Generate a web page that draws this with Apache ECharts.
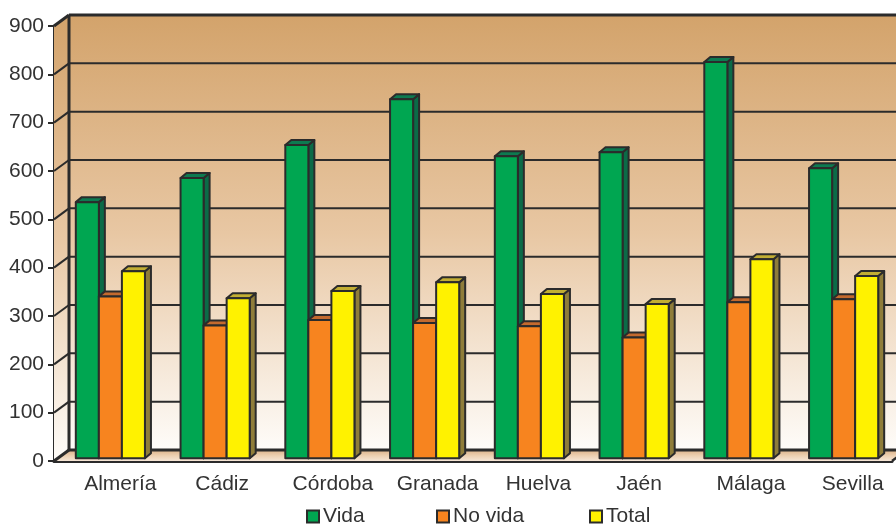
<!DOCTYPE html>
<html><head><meta charset="utf-8">
<style>html,body{margin:0;padding:0;background:#fff}#c{width:896px;height:525px}</style>
<script src="https://cdn.jsdelivr.net/npm/echarts@6/dist/echarts.min.js"></script>
</head><body><div id="c"></div>
<script>
const categories = ['Almería','Cádiz','Córdoba','Granada','Huelva','Jaén','Málaga','Sevilla'];
const vida   = [530,580,648,743,625,633,820,600];
const noVida = [335,275,286,280,273,250,323,329];
const total  = [387,331,346,364,340,319,412,377];
const yTicks = [0,100,200,300,400,500,600,700,800,900];

const INK='#2b2b2b', TXT='#333333', FONT='"Liberation Sans",Arial,sans-serif';
const labelPad=[28,22,34,34,26,18,32,26];
const DX=15, DY=-11;         // wall depth
const BDX=6, BDY=-5, BLIFT=-2.7, BSHIFT=4; // bar depth
const chart=echarts.init(document.getElementById('c'),null,{renderer:'canvas'});

function wall(params,api){
  const x0=api.coord([0,0])[0]-api.size([1,0])[0]/2;
  const x1=x0+api.size([1,0])[0]*categories.length;
  const yb=api.coord([0,0])[1], yt=api.coord([0,900])[1];
  const grad=()=>new echarts.graphic.LinearGradient(0,0,0,1,[{offset:0,color:'#d3a36b'},{offset:.5,color:'#e8c7a3'},{offset:1,color:'#fefcf9'}]);
  const ch=[];
  ch.push({type:'polygon',shape:{points:[[x0+DX,yt+DY],[x1+DX,yt+DY],[x1+DX,yb+DY],[x0+DX,yb+DY]]},style:{fill:grad()}});
  ch.push({type:'polygon',shape:{points:[[x0,yt],[x0+DX,yt+DY],[x0+DX,yb+DY],[x0,yb]]},style:{fill:grad()}});
  ch.push({type:'polygon',shape:{points:[[x0,yb],[x1,yb],[x1+DX,yb+DY],[x0+DX,yb+DY]]},
    style:{fill:new echarts.graphic.LinearGradient(0,0,0,1,[{offset:0,color:'#dcb289'},{offset:.5,color:'#eccfb0'},{offset:1,color:'#f6e6d6'}])}});
  const line=(a,b,w)=>ch.push({type:'line',shape:{x1:a[0],y1:a[1],x2:b[0],y2:b[1]},style:{stroke:INK,lineWidth:w,fill:null}});
  yTicks.forEach(v=>{
    const y=api.coord([0,v])[1];
    const edge=(v===0||v===900);
    line([x0+DX,y+DY],[x1+DX,y+DY],edge?3:2);
    line([x0,y],[x0+DX,y+DY],edge?3:2);
  });
  line([x0+DX,yt+DY],[x0+DX,yb+DY],3);
  line([x1,yb],[x1+DX,yb+DY],2.5);
  return {type:'group',children:ch};
}
function bars(idx,front,side,top){
  return function(params,api){
    const cat=api.value(0), val=api.value(1);
    const w=api.size([1,0])[0]*0.22;
    const c=api.coord([cat,val]), b=api.coord([cat,0]);
    const l=c[0]+BSHIFT+(idx-1.5)*w, r=l+w;
    const t=c[1]+BLIFT, u=b[1]+BLIFT;
    const st=f=>({fill:f,stroke:INK,lineWidth:2,lineJoin:'round'});
    return {type:'group',children:[
      {type:'polygon',shape:{points:[[r,t],[r+BDX,t+BDY],[r+BDX,u+BDY],[r,u]]},style:st(side)},
      {type:'polygon',shape:{points:[[l,t],[l+BDX,t+BDY],[r+BDX,t+BDY],[r,t]]},style:st(top)},
      {type:'rect',shape:{x:l,y:t,width:w,height:u-t},style:st(front)}
    ]};
  };
}
function barSeries(name,values,idx,front,side,top){
  return {name,type:'custom',z:3,clip:false,renderItem:bars(idx,front,side,top),
    itemStyle:{color:front,borderColor:INK,borderWidth:1.2},
    encode:{x:0,y:1},data:values.map((v,i)=>[i,v])};
}
const legendText={color:TXT,fontSize:21,fontFamily:FONT,padding:[0,0,0,-1]};
const mkLegend=(name,left)=>({data:[name],left,top:506,padding:0,itemWidth:12,itemHeight:12,icon:'rect',textStyle:legendText});
chart.setOption({
  animation:false,
  backgroundColor:'#ffffff',
  grid:{left:54,right:4,top:26,bottom:64,containLabel:false},
  legend:[mkLegend('Vida',306),mkLegend('No vida',436),mkLegend('Total',589)],
  xAxis:{type:'category',
    data:categories.map((c,i)=>({value:c,textStyle:{padding:[0,0,0,labelPad[i]]}})),
    axisLine:{lineStyle:{color:INK,width:3}},
    axisTick:{alignWithLabel:false,length:7,lineStyle:{color:INK,width:2}},
    axisLabel:{color:TXT,fontSize:21,fontFamily:FONT,margin:13,interval:0},splitLine:{show:false}},
  yAxis:{type:'value',min:0,max:900,interval:100,
    axisLine:{show:true,lineStyle:{color:INK,width:3}},
    axisTick:{show:true,length:6,lineStyle:{color:INK,width:2}},
    axisLabel:{color:TXT,fontSize:21,fontFamily:FONT,margin:10},splitLine:{show:false}},
  series:[
    {type:'custom',z:1,clip:false,silent:true,renderItem:wall,encode:{x:0,y:1},data:[[0,0]]},
    barSeries('Vida',vida,0,'#00a651','#0b6b47','#0d7a50'),
    barSeries('No vida',noVida,1,'#f7841f','#b9652b','#c46a2e'),
    barSeries('Total',total,2,'#fff200','#8f7d3a','#c2ae33')
  ]
});
</script></body></html>
